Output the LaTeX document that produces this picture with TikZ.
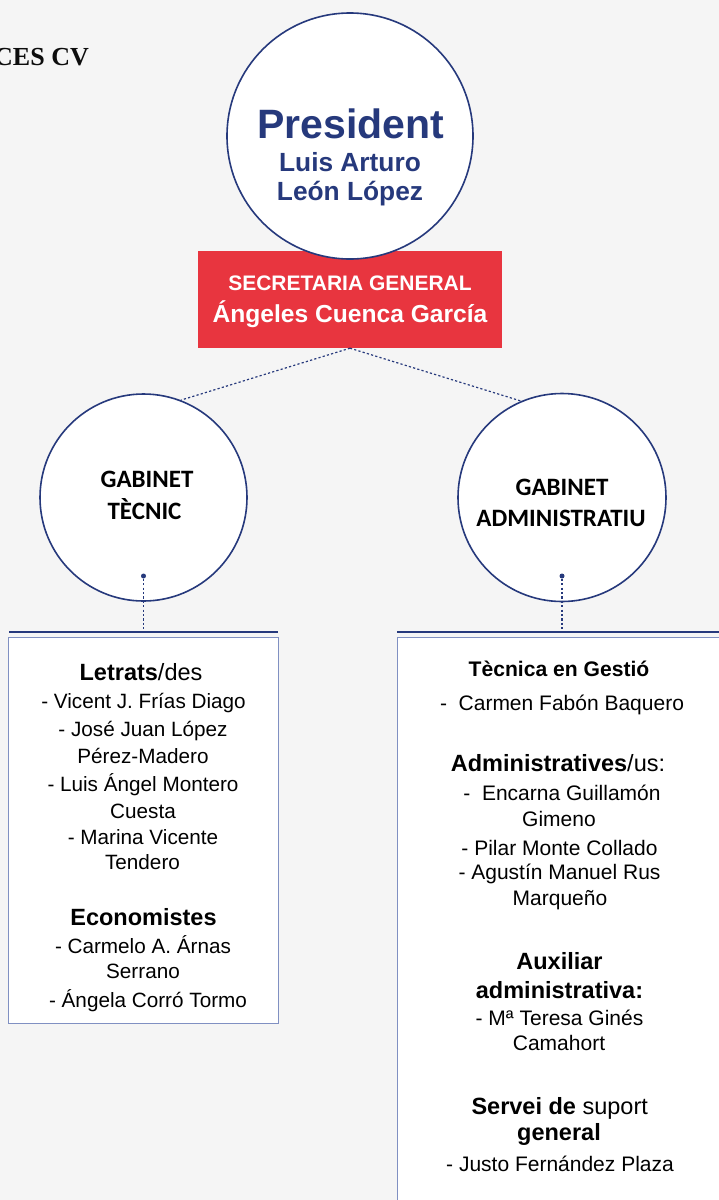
\documentclass[tikz,border=0pt]{standalone}
\usepackage{fontspec}
\setmainfont{Liberation Sans}
\newfontfamily\titlefont{Liberation Serif}
\newfontfamily\calfont{Carlito}
\definecolor{navy}{HTML}{26397C}
\definecolor{secred}{HTML}{E8353F}
\definecolor{bgc}{HTML}{F5F5F5}
\definecolor{boxc}{HTML}{8090C2}
\begin{document}
\begin{tikzpicture}[x=1pt,y=-1pt,
  txt/.style={inner sep=0, anchor=base, text=black},
  body/.style={txt, font=\fontsize{21}{25}\selectfont},
  lbody/.style={txt, font=\fontsize{20.7}{25}\selectfont},
  head/.style={txt, font=\fontsize{23.5}{28}\selectfont\bfseries},
  gab/.style={circle, draw=navy, fill=white, line width=1.6, minimum size=207, inner sep=0},
  gabtxt/.style={inner sep=0, anchor=base, font=\calfont\fontsize{25}{30}\selectfont\bfseries},
  conn/.style={navy, line width=1.2, dash pattern=on 2.2pt off 2.2pt},
  dotn/.style={circle, fill=navy, inner sep=0, minimum size=5},
  bar/.style={navy, line width=2},
  listbox/.style={draw=boxc, fill=white, line width=1.1, anchor=north west, inner sep=0},
  prestxt/.style={inner sep=0, anchor=base, text=navy}
]
\useasboundingbox (0,0) rectangle (719,1200);
\begin{scope}
\clip (0,0) rectangle (719,1200);
\fill[bgc] (0,0) rectangle (719,1200);

% title (clipped at left, as in the reference)
\node[inner sep=0, anchor=base west, text=black!95, font=\titlefont\fontsize{26}{30}\selectfont\bfseries] (title) at (-6,65) {CES CV};

% secretaria box
\node[fill=secred, minimum width=304, minimum height=97, inner sep=0] (sec) at (350,299.5) {};
\node[inner sep=0, anchor=base, text=white, font=\fontsize{21}{25}\selectfont\bfseries] (sec1) at (350,290) {SECRETARIA GENERAL};
\node[inner sep=0, anchor=base, text=white, font=\fontsize{24.6}{29}\selectfont\bfseries] (sec2) at (350,322) {Ángeles Cuenca García};

% president circle
\node[circle, draw=navy, fill=white, line width=1.6, minimum size=246, inner sep=0] (pres) at (350,136) {};
\node[prestxt, font=\fontsize{41}{46}\selectfont\bfseries] (p1) at (351,138) {President};
\node[prestxt, font=\fontsize{26.3}{30}\selectfont\bfseries] (p2) at (350,171) {Luis Arturo};
\node[prestxt, font=\fontsize{26.3}{30}\selectfont\bfseries] (p3) at (350,200) {León López};

% gabinet circles
\node[gab] (gt) at (143.5,497.5) {};
\node[gab, minimum size=208] (ga) at (562,497.5) {};
\node[gabtxt] (gt1) at (147,487.3) {GABINET};
\node[gabtxt] (gt2) at (144.5,519) {TÈCNIC};
\node[gabtxt] (ga1) at (562,495) {GABINET};
\node[gabtxt] (ga2) at (561,526.7) {ADMINISTRATIU};

% connectors from secretaria
\draw[conn] (sec.south) -- (gt.69);
\draw[conn] (sec.south) -- (ga.113);

% dots and drops
\node[dotn] (dl) at (143.5,576) {};
\node[dotn] (dr) at (562,576) {};
\coordinate (lbarL) at (9,632);
\coordinate (lbarR) at (278,632);
\coordinate (rbarL) at (397,632);
\coordinate (rbarR) at (725,632);
\draw[conn] (dl) -- (dl |- lbarL);
\draw[conn] (dr) -- (dr |- rbarL);
\draw[bar] (lbarL) -- (lbarR);
\draw[bar] (rbarL) -- (rbarR);

% list boxes
\node[listbox, minimum width=270, minimum height=386] (lbox) at (8,637) {};
\node[listbox, minimum width=340, minimum height=600] (rbox) at (397,637) {};

% left box text
\node[head] (l1) at (141,680) {Letrats\mdseries/des};
\node[lbody] (l2) at (143.5,708) {- Vicent J. Frías Diago};
\node[lbody] (l3) at (143,736.5) {- José Juan López};
\node[lbody] (l4) at (143,763.5) {Pérez-Madero};
\node[lbody] (l5) at (143,791.5) {- Luis Ángel Montero};
\node[lbody] (l6) at (143,818.5) {Cuesta};
\node[lbody] (l7) at (143,844.5) {- Marina Vicente};
\node[lbody] (l8) at (142.5,869.5) {Tendero};
\node[head] (l9) at (143.5,925) {Economistes};
\node[lbody] (l10) at (143,953.5) {- Carmelo A. Árnas};
\node[lbody] (l11) at (143,978.5) {Serrano};
\node[lbody] (l12) at (148,1007.5) {- Ángela Corró Tormo};

% right box text
\node[txt, font=\fontsize{21.1}{25}\selectfont\bfseries] (r1) at (559,676) {Tècnica en Gestió};
\node[body] (r2) at (562,710) {-\ \ Carmen Fabón Baquero};
\node[head] (r3) at (558,771.5) {Administratives\mdseries/us:};
\node[body] (r4) at (562,800.5) {-\ \ Encarna Guillamón};
\node[body] (r5) at (559,826) {Gimeno};
\node[body] (r6) at (559.5,855) {- Pilar Monte Collado};
\node[body] (r7) at (559.5,879.5) {- Agustín Manuel Rus};
\node[body] (r8) at (560,905) {Marqueño};
\node[head] (r9) at (559.5,969) {Auxiliar};
\node[head] (r10) at (559.5,998) {administrativa:};
\node[body] (r11) at (559.5,1025) {- Mª Teresa Ginés};
\node[body] (r12) at (559,1050) {Camahort};
\node[head] (r13) at (559.7,1114) {Servei de \mdseries suport};
\node[head] (r14) at (559,1140.5) {general};
\node[body] (r15) at (560,1171.5) {- Justo Fernández Plaza};
\end{scope}
\end{tikzpicture}
\end{document}
